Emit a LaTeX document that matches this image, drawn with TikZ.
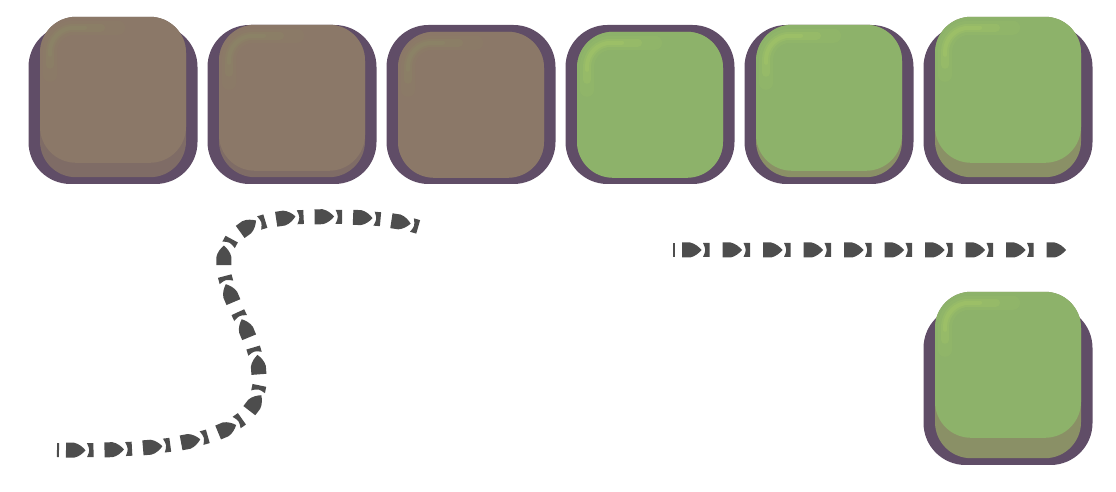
\documentclass[tikz,border=0pt]{standalone}
\usepackage{tikz}
\usetikzlibrary{decorations.markings, positioning}

\definecolor{tilePurple}{HTML}{604D67}
\definecolor{brownFace}{HTML}{8B7868}
\definecolor{brownSide}{HTML}{7F6C66}
\definecolor{brownGlow}{HTML}{8C8A66}
\definecolor{greenFace}{HTML}{8DB26A}
\definecolor{greenSide}{HTML}{8A9066}
\definecolor{greenGlow}{HTML}{A8CA66}
\definecolor{trailGrey}{HTML}{4D4D4D}

\begin{document}
\begin{tikzpicture}[x=1pt, y=1pt,
    tile base/.style={rectangle, fill=tilePurple, minimum width=169pt, minimum height=159pt, rounded corners=42pt, inner sep=0pt},
    trail/.style={
        postaction={decorate, decoration={markings,
            mark=at position 0 with {\fill[trailGrey] (0,-7) rectangle (2,7);}}},
        postaction={decorate, decoration={markings,
            mark=between positions 9pt and 1 step #1 with {\fill[trailGrey] (0,-7.5) -- (8,-7.5) .. controls (13,-6.5) and (17,-3) .. (19.5,0) .. controls (17,3) and (13,6.5) .. (8,7.5) -- (0,7.5) -- cycle;}}},
        postaction={decorate, decoration={markings,
            mark=between positions 30pt and 1 step #1 with {\fill[trailGrey] (0,-7) .. controls (3,0) .. (0,7) -- (6.5,7) -- (6.5,-7) -- cycle;}}}}]
    \useasboundingbox (0,0) rectangle (1116,492);

    % One tile: name, x, y, lift of the face, colour
    \def\tile#1#2#3#4#5{
        \node[tile base] (#1) at (#2,#3) {};
        \fill[#5Side, rounded corners=36pt] ([shift={(-73,#4)}]#1.north) rectangle ([shift={(73,7)}]#1.south);
        \fill[#5Face, rounded corners=36pt] ([shift={(-73,#4)}]#1.north) rectangle ([shift={(73,#4-146)}]#1.north);
        % soft shine in the top left corner
        \draw[#5Glow, opacity=.14, line width=14pt, line cap=round, rounded corners=24pt] ([shift={(-63,#4-58)}]#1.north) -- ([shift={(-63,#4-11)}]#1.north) -- ([shift={(5,#4-11)}]#1.north);
        \draw[#5Glow, opacity=.25, line width=8pt, line cap=round, rounded corners=24pt] ([shift={(-63,#4-48)}]#1.north) -- ([shift={(-63,#4-11)}]#1.north) -- ([shift={(-12,#4-11)}]#1.north);
        \draw[#5Glow, opacity=.35, line width=4pt, line cap=round, rounded corners=24pt] ([shift={(-63,#4-38)}]#1.north) -- ([shift={(-63,#4-11)}]#1.north) -- ([shift={(-28,#4-11)}]#1.north);
    }

    % Top row of tiles
    \tile{t1}{113}{387.5}{8}{brown}
    \tile{t2}{292}{387.5}{0}{brown}
    \tile{t3}{471}{387.5}{-7}{brown}
    \tile{t4}{650}{387.5}{-7}{green}
    \tile{t5}{829}{387.5}{0}{green}
    \tile{t6}{1008}{387.5}{8}{green}
    % Lone tile below
    \tile{t7}{1008}{106.5}{14}{green}

    % Winding trail
    \coordinate (sStart) at (57,42);
    \coordinate (sLow) at (259,107);
    \coordinate (sHigh) at (224,230);
    \coordinate (sTop) at (305,275);
    \coordinate (sEnd) at (415,266);
    \path[trail=38.5pt] (sStart) .. controls (170,40) and (255,52) .. (sLow)
        .. controls (262,152) and (222,192) .. (sHigh)
        .. controls (226,264) and (260,274) .. (sTop)
        .. controls (350,276) and (390,274) .. (sEnd);

    % Straight trail
    \coordinate (hStart) at (673,242);
    \coordinate (hEnd) at (1065,242);
    \path[trail=40.5pt] (hStart) -- (hEnd);
\end{tikzpicture}
\end{document}
